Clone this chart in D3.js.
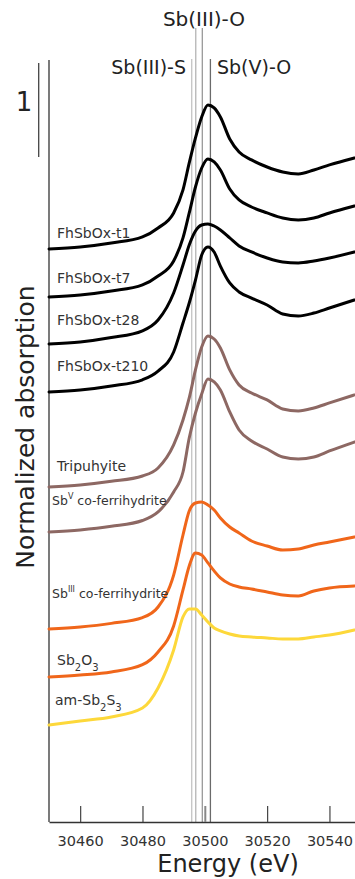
<!DOCTYPE html>
<html><head><meta charset="utf-8">
<script src="https://cdn.jsdelivr.net/npm/d3@7"></script>
<style>
html,body{margin:0;padding:0;background:#fff;}
svg{display:block;font-family:"DejaVu Sans",sans-serif;}
</style></head>
<body><svg id="c" width="355" height="879"></svg>
<script>
// ---- data ----
const energies = [30450,30460,30470,30480,30485,30490,30493,30495,30497,30499,30501,30503,30505,30508,30511,30515,30520,30525,30530,30535,30540,30548];
const xTicks = [30460,30480,30500,30520,30540];
const seriesNames = ["FhSbOx-t1","FhSbOx-t7","FhSbOx-t28","FhSbOx-t210","Tripuhyite","SbV co-ferrihydrite","SbIII co-ferrihydrite","Sb2O3","am-Sb2S3"];
const offsets = [6.096,5.585,5.085,4.574,3.564,3.085,2.053,1.543,1.032];
const fhT1   = [0,.021,.064,.128,.223,.383,.628,.915,1.181,1.404,1.532,1.500,1.404,1.170,1.032,.947,.872,.819,.798,.840,.894,.968];
const fhT7   = [0,.021,.064,.128,.223,.383,.628,.894,1.170,1.372,1.468,1.436,1.351,1.149,1.032,.957,.894,.840,.819,.840,.894,.968];
const fhT28  = [0,.021,.068,.140,.255,.543,.840,1.053,1.202,1.266,1.277,1.255,1.213,1.128,1.043,.979,.915,.872,.862,.883,.915,.979];
const fhT210 = [0,.021,.064,.130,.223,.426,.734,.947,1.191,1.457,1.543,1.489,1.340,1.160,1.064,1.000,.926,.830,.809,.840,.894,.979];
const tripuhyite = [0,.021,.060,.117,.202,.447,.713,.947,1.245,1.489,1.606,1.574,1.479,1.245,1.085,1.000,.926,.830,.809,.840,.894,.979];
const sbVcofh = [0,.021,.060,.122,.213,.426,.638,1.000,1.266,1.468,1.628,1.596,1.511,1.277,1.085,.968,.883,.798,.777,.798,.862,.957];
const sbIIIcofh = [0,.021,.060,.122,.234,.574,1.000,1.255,1.340,1.351,1.319,1.266,1.181,1.085,1.021,.936,.883,.840,.851,.894,.926,.979];
const sb2o3 = [0,.021,.053,.130,.266,.543,.926,1.181,1.319,1.298,1.213,1.128,1.053,.989,.957,.936,.904,.872,.862,.915,.947,.968];
const amSb2s3 = [0,.043,.085,.181,.394,.798,1.149,1.234,1.234,1.170,1.096,1.032,1.000,.968,.947,.936,.926,.915,.915,.936,.957,1.011];
const seriesValues = [fhT1,fhT7,fhT28,fhT210,tripuhyite,sbVcofh,sbIIIcofh,sb2o3,amSb2s3];
const seriesColors = ["#000","#000","#000","#000","#8d6863","#8d6863","#f0661a","#f0661a","#fdd83a"];
const refEnergies = [30495.8,30497.1,30499.2,30501.8];
const refLabels = ["Sb(III)-S","Sb(III)-O","Sb(V)-O"];

// ---- scales ----
const svg = d3.select("#c");
const x = d3.scaleLinear().domain([30450,30548.2]).range([49,355]);
const y = d3.scaleLinear().domain([0,8.106]).range([822,60]);

// reference lines
const refColors = ["#c4c4c4","#b4b4b4","#9a9a9a","#6a6a6a"];
const refTops = [59,28,28,59];
svg.selectAll("line.ref").data(refEnergies).join("line")
  .attr("class","ref")
  .attr("x1",d=>x(d)).attr("x2",d=>x(d))
  .attr("y1",(d,i)=>refTops[i]).attr("y2",y(0))
  .attr("stroke",(d,i)=>refColors[i]).attr("stroke-width",1.3);

// x axis
const ax = svg.append("g").attr("transform",`translate(0,${y(0)})`)
  .call(d3.axisBottom(x).tickValues(xTicks).tickFormat(d3.format("d")).tickSizeInner(-16).tickSizeOuter(0).tickPadding(14));
ax.select(".domain").attr("stroke","#333").attr("stroke-width",1.3);
ax.selectAll(".tick line").attr("stroke",d=>d===30500?"#888":"#444").attr("stroke-width",d=>d===30500?2:1.2);
ax.selectAll(".tick text").attr("font-size",14.5).attr("fill","#333").attr("font-family","DejaVu Sans");

// y axis line
svg.append("line").attr("x1",49).attr("x2",49).attr("y1",60).attr("y2",y(0)).attr("stroke","#333").attr("stroke-width",1.3);
// scale bar (1 unit)
const sbTop = 8.074;
svg.append("line").attr("x1",38.7).attr("x2",38.7).attr("y1",y(sbTop)).attr("y2",y(sbTop-1)).attr("stroke","#444").attr("stroke-width",1.3);
svg.append("text").attr("x",24).attr("y",111).attr("text-anchor","middle").attr("font-size",26).attr("fill","#222").text("1");

// curves
const line = d3.line().x(d=>x(d[0])).y(d=>y(d[1])).curve(d3.curveMonotoneX);
seriesValues.forEach((vals,i)=>{
  const pts = energies.map((e,j)=>[e, offsets[i]+vals[j]]);
  svg.append("path").datum(pts).attr("d",line).attr("fill","none")
    .attr("stroke",seriesColors[i]).attr("stroke-width",3).attr("stroke-linejoin","round").attr("stroke-linecap","round");
});

// top labels
svg.append("text").attr("x",204).attr("y",26).attr("text-anchor","middle").attr("font-size",20).attr("fill","#222").text(refLabels[1]);
svg.append("text").attr("x",186).attr("y",74).attr("text-anchor","end").attr("font-size",19).attr("fill","#222").text(refLabels[0]);
svg.append("text").attr("x",217).attr("y",74).attr("text-anchor","start").attr("font-size",19).attr("fill","#222").text(refLabels[2]);

// axis titles
svg.append("text").attr("x",228).attr("y",872).attr("text-anchor","middle").attr("font-size",24).attr("fill","#222").text("Energy (eV)");
svg.append("text").attr("transform","translate(34,427) rotate(-90)").attr("text-anchor","middle").attr("font-size",25).attr("fill","#222").text("Normalized absorption");

// series labels
const lab = svg.append("g").attr("fill","#333").attr("font-size",14);
const simple = [[0,57,238],[1,57,283],[2,57,325],[3,57,371],[4,57,471]];
simple.forEach(([i,lx,ly])=>lab.append("text").attr("x",lx).attr("y",ly).text(seriesNames[i]));
// Sb^V co-ferrihydrite
let t = lab.append("text").attr("x",52).attr("y",505).attr("font-size",12.5);
t.append("tspan").text("Sb");
t.append("tspan").attr("font-size",8).attr("dy",-6).text("V");
t.append("tspan").attr("dy",6).text(" co-ferrihydrite");
// Sb^III co-ferrihydrite
t = lab.append("text").attr("x",52).attr("y",598).attr("font-size",12.5);
t.append("tspan").text("Sb");
t.append("tspan").attr("font-size",8).attr("dy",-6).text("III");
t.append("tspan").attr("dy",6).text(" co-ferrihydrite");
// Sb2O3
t = lab.append("text").attr("x",57).attr("y",665);
t.append("tspan").text("Sb");
t.append("tspan").attr("font-size",10).attr("dy",6).text("2");
t.append("tspan").attr("dy",-6).text("O");
t.append("tspan").attr("font-size",10).attr("dy",6).text("3");
// am-Sb2S3
t = lab.append("text").attr("x",55).attr("y",705);
t.append("tspan").text("am-Sb");
t.append("tspan").attr("font-size",10).attr("dy",6).text("2");
t.append("tspan").attr("dy",-6).text("S");
t.append("tspan").attr("font-size",10).attr("dy",6).text("3");
</script></body></html>
